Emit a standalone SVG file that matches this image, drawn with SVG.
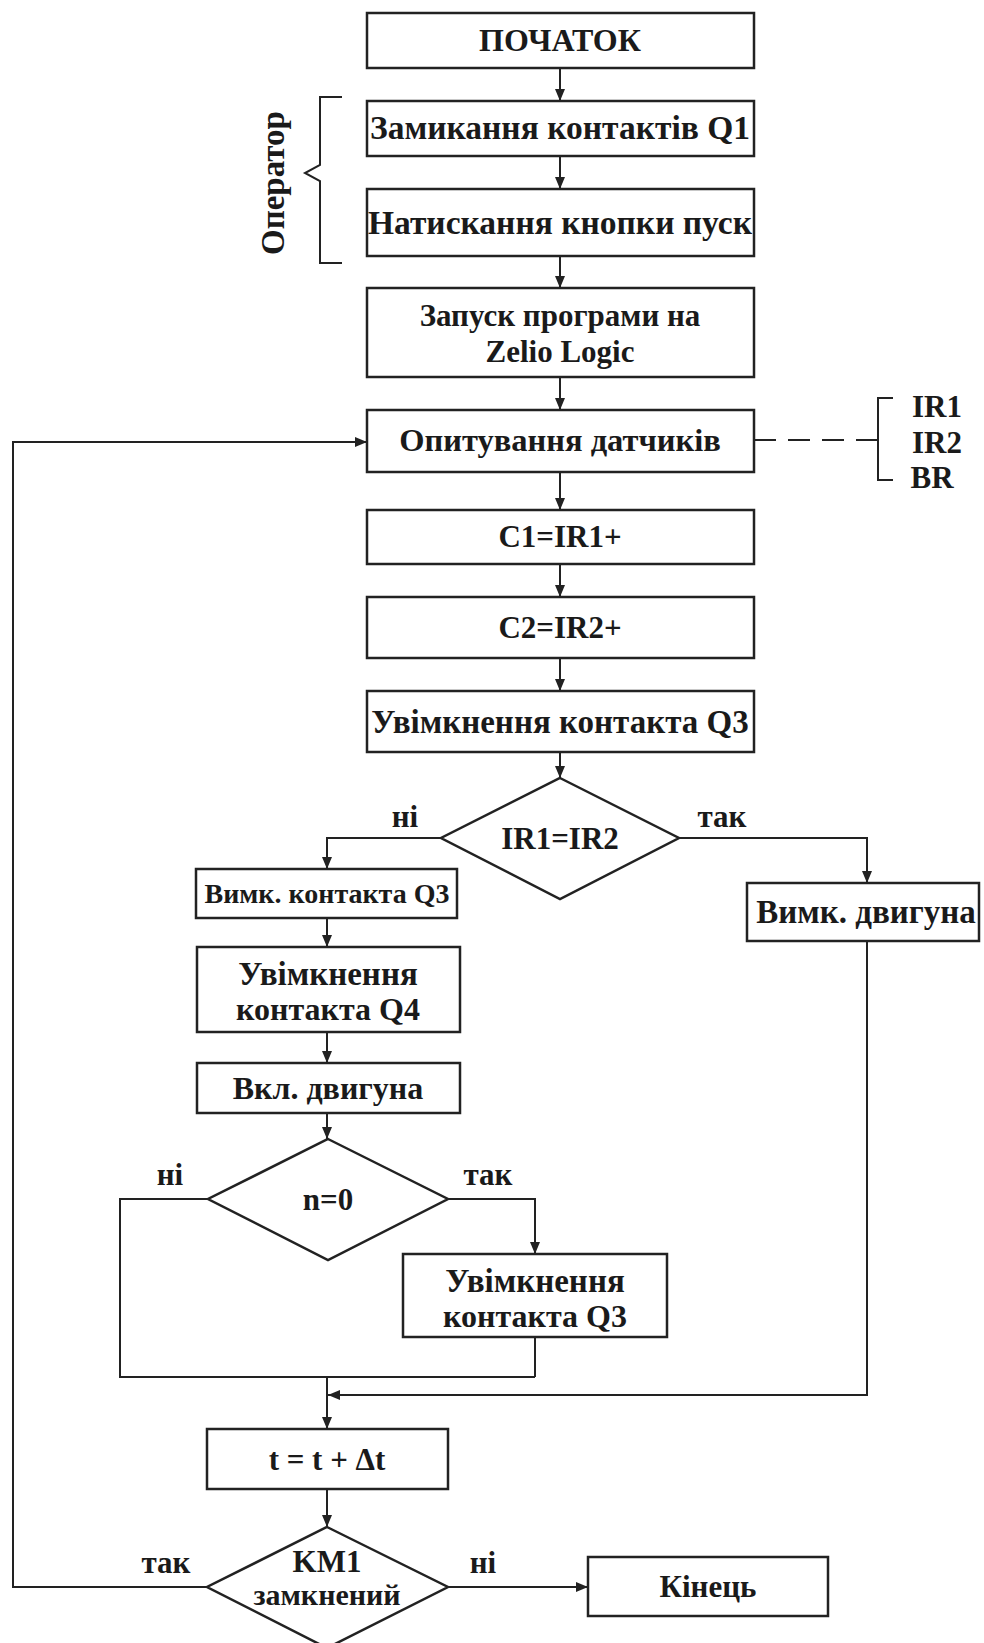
<svg xmlns="http://www.w3.org/2000/svg" width="984" height="1643" viewBox="0 0 984 1643">
<defs>
<marker id="ah" markerUnits="userSpaceOnUse" markerWidth="12" markerHeight="10" refX="12" refY="5" orient="auto">
<path d="M0,0 L12,5 L0,10 Z" fill="#222"/>
</marker>
<style>
.box{fill:#fff;stroke:#222;stroke-width:2.5}
.t{font-family:"Liberation Serif","Times New Roman",serif;font-weight:bold;font-size:31px;fill:#1a1a1a;text-anchor:middle}
.w{font-size:33px}
.s{font-size:28px}
.ln{fill:none;stroke:#222;stroke-width:2}
.ar{fill:none;stroke:#222;stroke-width:2;marker-end:url(#ah)}
</style>
</defs>
<rect width="984" height="1643" fill="#fff"/>
<g id="connectors">
<path class="ar" d="M560,68 V101"/>
<path class="ar" d="M560,156 V189"/>
<path class="ar" d="M560,256 V288"/>
<path class="ar" d="M560,377 V410"/>
<path class="ar" d="M560,472 V510"/>
<path class="ar" d="M560,564 V597"/>
<path class="ar" d="M560,658 V691"/>
<path class="ar" d="M560,752 V778"/>
<path class="ar" d="M441,838 H327 V869"/>
<path class="ar" d="M679,838 H867 V883"/>
<path class="ar" d="M327,918 V947"/>
<path class="ar" d="M327,1032 V1063"/>
<path class="ar" d="M327,1113 V1139"/>
<path class="ln" d="M208,1199 H120 V1377 H535"/>
<path class="ar" d="M448,1199 H535 V1254"/>
<path class="ln" d="M535,1337 V1377"/>
<path class="ar" d="M327,1377 V1429"/>
<path class="ar" d="M867,941 V1395 H328"/>
<path class="ar" d="M327,1489 V1527"/>
<path class="ar" d="M207,1587 H13 V442 H367"/>
<path class="ar" d="M448,1587 H588"/>
<path class="ln" d="M754,440 H877" stroke-dasharray="22,12"/>
<path class="ln" d="M893,398 H878 V480 H893"/>
<path class="ln" d="M342,97 H320 V165 L305,173 L320,181 V263 H342"/>
</g>
<g id="n_start"><rect class="box" x="367" y="13" width="387" height="55"/><text class="t" x="560" y="51" style="font-size:32px">ПОЧАТОК</text></g>
<g id="n_q1"><rect class="box" x="367" y="101" width="387" height="55"/><text class="t" x="560" y="139" style="font-size:33.5px">Замикання контактів Q1</text></g>
<g id="n_pusk"><rect class="box" x="367" y="189" width="387" height="67"/><text class="t" x="560" y="234" style="font-size:33.5px">Натискання кнопки пуск</text></g>
<g id="n_oper"><text class="t w" transform="translate(284,183) rotate(-90)">Оператор</text></g>
<g id="n_zelio"><rect class="box" x="367" y="288" width="387" height="89"/><text class="t" x="560" y="326">Запуск програми на</text><text class="t" x="560" y="362">Zelio Logic</text></g>
<g id="n_sens"><rect class="box" x="367" y="410" width="387" height="62"/><text class="t" x="560" y="451" style="font-size:32.5px">Опитування датчиків</text></g>
<g id="n_irs"><text class="t" x="937" y="417">IR1</text><text class="t" x="937" y="453">IR2</text><text class="t" x="932" y="488">BR</text></g>
<g id="n_c1"><rect class="box" x="367" y="510" width="387" height="54"/><text class="t" x="560" y="547">C1=IR1+</text></g>
<g id="n_c2"><rect class="box" x="367" y="597" width="387" height="61"/><text class="t" x="560" y="638">C2=IR2+</text></g>
<g id="n_q3on"><rect class="box" x="367" y="691" width="387" height="61"/><text class="t" x="560" y="733" style="font-size:33px">Увімкнення контакта Q3</text></g>
<g id="n_d1"><polygon class="box" points="560,778 679,838 560,899 441,838"/><text class="t" x="560" y="849">IR1=IR2</text><text class="t" x="405" y="827">ні</text><text class="t" x="722" y="827">так</text></g>
<g id="n_q3off"><rect class="box" x="196" y="869" width="261" height="49"/><text class="t s" x="327" y="903">Вимк. контакта Q3</text></g>
<g id="n_motoff"><rect class="box" x="747" y="883" width="232" height="58"/><text class="t" x="866" y="923" style="font-size:33px">Вимк. двигуна</text></g>
<g id="n_q4"><rect class="box" x="197" y="947" width="263" height="85"/><text class="t w" x="328" y="985">Увімкнення</text><text class="t" x="328" y="1020" style="font-size:32px">контакта Q4</text></g>
<g id="n_moton"><rect class="box" x="197" y="1063" width="263" height="50"/><text class="t" x="328" y="1099" style="font-size:32px">Вкл. двигуна</text></g>
<g id="n_d2"><polygon class="box" points="328,1139 448,1199 328,1260 208,1199"/><text class="t" x="328" y="1210">n=0</text><text class="t" x="170" y="1185">ні</text><text class="t" x="488" y="1185">так</text></g>
<g id="n_q3on2"><rect class="box" x="403" y="1254" width="264" height="83"/><text class="t w" x="535" y="1292">Увімкнення</text><text class="t" x="535" y="1327" style="font-size:32px">контакта Q3</text></g>
<g id="n_t"><rect class="box" x="207" y="1429" width="241" height="60"/><text class="t" x="327" y="1470">t = t + Δt</text></g>
<g id="n_d3"><polygon class="box" points="327,1527 448,1587 327,1648 207,1587"/><text class="t" x="327" y="1572">KM1</text><text class="t" x="327" y="1605" style="font-size:30px">замкнений</text><text class="t" x="166" y="1573">так</text><text class="t" x="483" y="1573">ні</text></g>
<g id="n_end"><rect class="box" x="588" y="1557" width="240" height="59"/><text class="t" x="708" y="1597">Кінець</text></g>
</svg>
